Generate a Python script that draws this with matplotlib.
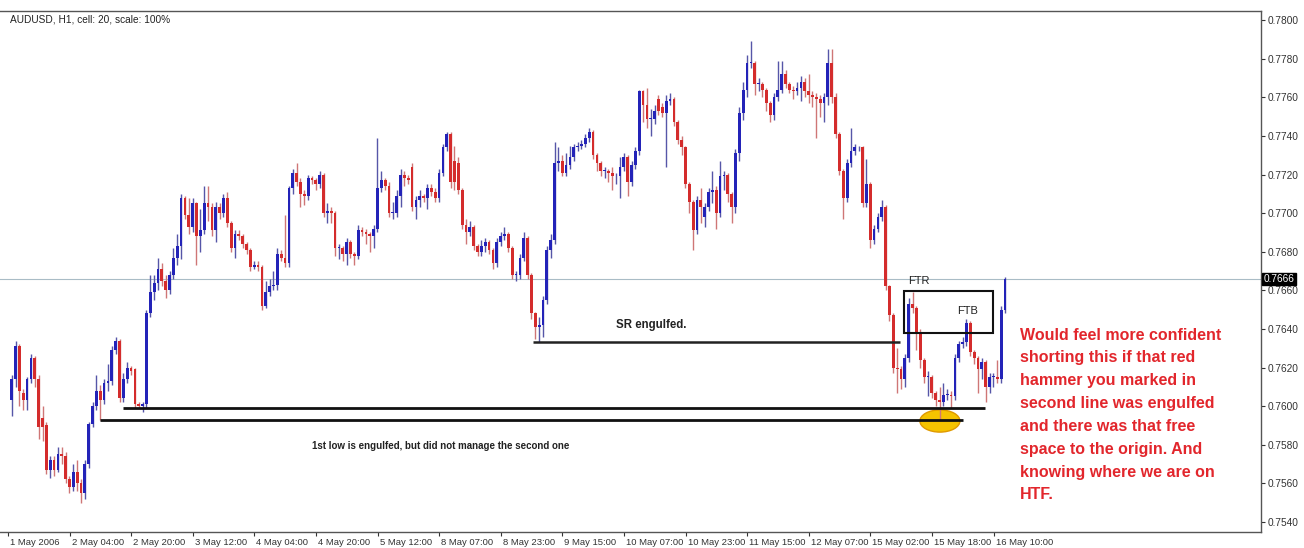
import numpy as np
import matplotlib
matplotlib.use("Agg")
import matplotlib.pyplot as plt
from matplotlib.patches import Ellipse, Rectangle
from matplotlib.transforms import ScaledTranslation

plt.rcParams['font.family'] = ['Liberation Sans', 'DejaVu Sans']

# AUDUSD H1 bars, prices in pips (x 0.0001)
opens = [
    7603, 7614, 7631, 7607, 7603, 7614, 7625, 7614, 7594, 7590,
    7567, 7572, 7567, 7575, 7574, 7562, 7558, 7566, 7560, 7555,
    7570, 7591, 7600, 7608, 7603, 7612, 7613, 7629, 7634, 7604,
    7614, 7620, 7619, 7601, 7600, 7601, 7648, 7659, 7664, 7671,
    7665, 7660, 7668, 7677, 7683, 7708, 7699, 7693, 7705, 7688,
    7691, 7705, 7703, 7691, 7703, 7700, 7708, 7695, 7682, 7689,
    7688, 7684, 7681, 7672, 7673, 7672, 7652, 7659, 7662, 7663,
    7679, 7677, 7674, 7713, 7721, 7716, 7710, 7709, 7718, 7717,
    7715, 7720, 7700, 7701, 7700, 7682, 7682, 7679, 7685, 7679,
    7678, 7691, 7690, 7689, 7688, 7692, 7713, 7717, 7714, 7700,
    7700, 7709, 7720, 7718, 7724, 7703, 7707, 7709, 7708, 7713,
    7711, 7708, 7721, 7734, 7741, 7727, 7726, 7712, 7694, 7690,
    7693, 7683, 7680, 7683, 7685, 7681, 7674, 7685, 7688, 7689,
    7682, 7668, 7668, 7677, 7687, 7668, 7648, 7641, 7642, 7655,
    7681, 7686, 7726, 7727, 7721, 7725, 7729, 7734, 7735, 7736,
    7739, 7742, 7730, 7726, 7722, 7722, 7721, 7719, 7719, 7724,
    7729, 7716, 7725, 7732, 7763, 7756, 7749, 7749, 7759, 7755,
    7752, 7758, 7759, 7747, 7738, 7734, 7715, 7706, 7691, 7707,
    7698, 7703, 7711, 7712, 7700, 7719, 7720, 7710, 7703, 7731,
    7752, 7764, 7778, 7778, 7767, 7767, 7764, 7757, 7751, 7760,
    7764, 7772, 7767, 7764, 7763, 7765, 7768, 7763, 7761, 7760,
    7759, 7757, 7760, 7778, 7760, 7741, 7722, 7708, 7726, 7732,
    7734, 7734, 7705, 7715, 7686, 7692, 7698, 7703, 7662, 7647,
    7620, 7619, 7614, 7625, 7653, 7651, 7638, 7624, 7615, 7615,
    7607, 7603, 7602, 7606, 7606, 7605, 7625, 7632, 7633, 7643,
    7628, 7625, 7619, 7623, 7610, 7615, 7615, 7614, 7650,
]
highs = [
    7616, 7634, 7632, 7609, 7615, 7627, 7626, 7616, 7600, 7592,
    7574, 7574, 7579, 7579, 7576, 7564, 7570, 7572, 7562, 7572,
    7592, 7602, 7616, 7611, 7614, 7622, 7631, 7636, 7635, 7617,
    7623, 7621, 7620, 7602, 7602, 7650, 7668, 7668, 7677, 7674,
    7668, 7670, 7682, 7689, 7710, 7709, 7708, 7708, 7706, 7702,
    7714, 7714, 7705, 7706, 7705, 7710, 7711, 7696, 7691, 7691,
    7689, 7685, 7682, 7675, 7675, 7673, 7665, 7666, 7670, 7682,
    7681, 7699, 7714, 7723, 7726, 7718, 7712, 7720, 7719, 7718,
    7722, 7721, 7705, 7703, 7701, 7684, 7683, 7687, 7686, 7680,
    7694, 7693, 7692, 7690, 7694, 7739, 7722, 7718, 7716, 7706,
    7712, 7723, 7722, 7720, 7726, 7709, 7712, 7710, 7715, 7715,
    7713, 7723, 7736, 7742, 7742, 7735, 7729, 7713, 7697, 7696,
    7694, 7684, 7686, 7687, 7686, 7682, 7687, 7690, 7693, 7690,
    7683, 7670, 7679, 7690, 7688, 7669, 7649, 7646, 7657, 7683,
    7689, 7737, 7734, 7730, 7731, 7735, 7736, 7737, 7738, 7741,
    7744, 7743, 7731, 7727, 7724, 7723, 7724, 7721, 7729, 7731,
    7730, 7727, 7734, 7764, 7764, 7765, 7754, 7756, 7761, 7757,
    7761, 7762, 7760, 7748, 7740, 7735, 7716, 7707, 7709, 7713,
    7705, 7713, 7722, 7714, 7727, 7722, 7721, 7711, 7733, 7755,
    7768, 7782, 7789, 7779, 7770, 7768, 7765, 7758, 7762, 7779,
    7779, 7774, 7768, 7766, 7768, 7771, 7770, 7772, 7763, 7762,
    7761, 7762, 7785, 7785, 7762, 7742, 7723, 7728, 7744, 7736,
    7735, 7735, 7728, 7716, 7694, 7700, 7707, 7704, 7663, 7648,
    7630, 7621, 7627, 7656, 7659, 7652, 7640, 7625, 7618, 7616,
    7608, 7610, 7612, 7609, 7608, 7627, 7634, 7636, 7645, 7644,
    7629, 7626, 7625, 7624, 7617, 7617, 7624, 7652, 7667,
]
lows = [
    7595, 7610, 7600, 7598, 7598, 7612, 7610, 7583, 7582, 7565,
    7563, 7564, 7566, 7570, 7560, 7555, 7556, 7556, 7550, 7552,
    7568, 7589, 7598, 7593, 7601, 7608, 7611, 7627, 7602, 7602,
    7612, 7616, 7599, 7599, 7597, 7599, 7646, 7655, 7660, 7662,
    7656, 7658, 7666, 7673, 7676, 7697, 7689, 7690, 7673, 7680,
    7689, 7696, 7688, 7685, 7697, 7698, 7693, 7680, 7677, 7686,
    7682, 7679, 7670, 7671, 7670, 7650, 7651, 7657, 7660, 7660,
    7675, 7672, 7672, 7710, 7714, 7703, 7704, 7707, 7715, 7712,
    7713, 7698, 7695, 7695, 7678, 7676, 7675, 7673, 7677, 7673,
    7676, 7688, 7684, 7680, 7682, 7690, 7711, 7712, 7698, 7697,
    7698, 7703, 7714, 7715, 7701, 7697, 7703, 7706, 7702, 7709,
    7706, 7706, 7719, 7732, 7713, 7712, 7710, 7692, 7684, 7688,
    7681, 7678, 7678, 7680, 7679, 7671, 7672, 7683, 7686, 7680,
    7666, 7665, 7666, 7675, 7666, 7645, 7635, 7633, 7636, 7653,
    7677, 7684, 7722, 7719, 7719, 7723, 7727, 7732, 7733, 7734,
    7737, 7728, 7722, 7719, 7718, 7716, 7712, 7715, 7708, 7722,
    7709, 7714, 7723, 7730, 7747, 7744, 7740, 7746, 7751, 7750,
    7724, 7756, 7745, 7736, 7730, 7713, 7700, 7681, 7689, 7695,
    7693, 7701, 7705, 7692, 7698, 7712, 7706, 7695, 7700, 7727,
    7748, 7760, 7775, 7761, 7763, 7760, 7753, 7747, 7748, 7758,
    7762, 7765, 7762, 7759, 7761, 7758, 7760, 7757, 7755, 7739,
    7750, 7747, 7756, 7757, 7739, 7720, 7697, 7706, 7724, 7730,
    7732, 7703, 7703, 7682, 7684, 7690, 7696, 7660, 7644, 7617,
    7607, 7609, 7610, 7623, 7648, 7629, 7620, 7612, 7605, 7604,
    7600, 7593, 7600, 7603, 7599, 7603, 7623, 7630, 7631, 7626,
    7622, 7607, 7614, 7602, 7607, 7610, 7612, 7612, 7648,
]
closes = [
    7614, 7631, 7608, 7603, 7614, 7625, 7614, 7589, 7589, 7567,
    7572, 7567, 7575, 7574, 7562, 7558, 7566, 7560, 7555, 7570,
    7591, 7600, 7608, 7603, 7612, 7613, 7629, 7634, 7604, 7614,
    7620, 7618, 7601, 7600, 7601, 7648, 7659, 7664, 7671, 7665,
    7660, 7668, 7677, 7683, 7708, 7699, 7693, 7705, 7688, 7691,
    7705, 7703, 7691, 7703, 7700, 7708, 7695, 7682, 7689, 7688,
    7684, 7681, 7672, 7673, 7672, 7652, 7659, 7662, 7663, 7679,
    7677, 7674, 7713, 7721, 7716, 7710, 7709, 7718, 7717, 7715,
    7720, 7700, 7701, 7700, 7682, 7682, 7679, 7685, 7679, 7678,
    7691, 7690, 7689, 7688, 7692, 7713, 7717, 7714, 7700, 7700,
    7709, 7720, 7718, 7717, 7703, 7707, 7709, 7708, 7713, 7711,
    7708, 7721, 7734, 7741, 7716, 7716, 7712, 7694, 7690, 7693,
    7683, 7680, 7683, 7685, 7681, 7674, 7685, 7688, 7689, 7682,
    7668, 7668, 7677, 7687, 7668, 7648, 7641, 7642, 7655, 7681,
    7686, 7726, 7727, 7721, 7725, 7729, 7734, 7735, 7736, 7739,
    7742, 7730, 7726, 7722, 7722, 7721, 7719, 7719, 7724, 7729,
    7716, 7725, 7732, 7763, 7756, 7749, 7749, 7753, 7753, 7752,
    7758, 7759, 7747, 7738, 7734, 7715, 7706, 7691, 7707, 7703,
    7703, 7711, 7712, 7700, 7719, 7720, 7710, 7703, 7731, 7752,
    7764, 7778, 7778, 7767, 7767, 7764, 7757, 7751, 7760, 7764,
    7772, 7767, 7764, 7763, 7765, 7768, 7763, 7761, 7760, 7759,
    7757, 7760, 7778, 7760, 7741, 7722, 7708, 7726, 7732, 7734,
    7734, 7705, 7715, 7686, 7692, 7698, 7703, 7662, 7647, 7620,
    7619, 7614, 7625, 7653, 7651, 7638, 7624, 7615, 7615, 7607,
    7603, 7602, 7606, 7606, 7605, 7625, 7632, 7633, 7643, 7628,
    7625, 7619, 7623, 7610, 7615, 7615, 7614, 7650, 7666,
]

date_labels = ['1 May 2006', '2 May 04:00', '2 May 20:00', '3 May 12:00', '4 May 04:00',
               '4 May 20:00', '5 May 12:00', '8 May 07:00', '8 May 23:00', '9 May 15:00',
               '10 May 07:00', '10 May 23:00', '11 May 15:00', '12 May 07:00', '15 May 02:00',
               '15 May 18:00', '16 May 10:00']
price_ticks = [0.7540, 0.7560, 0.7580, 0.7600, 0.7620, 0.7640, 0.7660,
               0.7680, 0.7700, 0.7720, 0.7740, 0.7760, 0.7780, 0.7800]
last_price = 0.7666
sr_level = 0.7633
low1_level = 0.7599
low2_level = 0.7593

note = ["Would feel more confident", "shorting this if that red", "hammer you marked in",
        "second line was engulfed", "and there was that free", "space to the origin. And",
        "knowing where we are on", "HTF."]

o = np.array(opens) / 10000.0
h = np.array(highs) / 10000.0
l = np.array(lows) / 10000.0
c = np.array(closes) / 10000.0
x = np.arange(len(c))

W, H = 1304, 548
fig = plt.figure(figsize=(W / 100, H / 100), dpi=100)
ax = fig.add_axes([0, 1 - 532 / H, 1261 / W, 521 / H])

bull = c >= o
blue = '#2323b8'
red = '#d42c2c'
wick_cols = np.where(bull, '#5656a8', '#cf7676')
body_cols = np.where(bull, blue, red)

ax.vlines(x, l, h, colors=wick_cols, lw=1.0, zorder=3)
bottoms = np.minimum(o, c)
heights = np.maximum(np.abs(c - o), 0.00004)
ax.bar(x, heights, bottom=bottoms, width=0.72, color=body_cols, lw=0, zorder=4)

# current price line
ax.axhline(last_price, color='#a9bcc6', lw=0.8, zorder=1)

# annotations
ax.hlines(sr_level, 135.4, 230.7, color='#222222', lw=1.8, zorder=5)
ax.hlines(low1_level, 28.9, 252.8, color='#111111', lw=2.0, zorder=5)
ax.hlines(low2_level, 22.9, 247.1, color='#111111', lw=2.0, zorder=5)
ax.add_patch(Ellipse((241.1, 0.75923), 10.4, 0.00115, facecolor='#f5c300',
                     edgecolor='#e09a00', lw=1, zorder=2))
ax.add_patch(Rectangle((231.8, 0.76379), 23.1, 0.00218, fill=False,
                       edgecolor='#111111', lw=1.5, zorder=6))

ax.text(166, 0.76418, 'SR engulfed.', fontsize=8.3, fontweight='bold', color='#222222',
        ha='center', va='center')
ax.text(111.5, 0.75795, '1st low is engulfed, but did not manage the second one', fontsize=7.0,
        fontweight='bold', color='#222222', ha='center', va='center')
ax.text(232.8, 0.76648, 'FTR', fontsize=8, color='#222222', ha='left', va='center')
ax.text(245.5, 0.76493, 'FTB', fontsize=8, color='#222222', ha='left', va='center')

for i, line in enumerate(note):
    fig.text(1020 / W, 1 - (335 + i * 22.85) / H, line, fontsize=11.5, fontweight='bold',
             color='#e2262c', ha='left', va='center')

fig.text(10 / W, 1 - 20 / H, 'AUDUSD, H1, cell: 20, scale: 100%', fontsize=7.3,
         color='#222222', ha='left', va='center')

ax.set_xlim(-3.04, 324.5)
ax.set_ylim(0.75348, 0.78047)

ax.yaxis.tick_right()
ax.set_yticks(price_ticks)
ax.set_yticklabels(['%.4f' % p for p in price_ticks])
ax.tick_params(axis='y', length=3, width=0.8, pad=2, labelsize=7.3, colors='#333333')

xt = np.arange(len(date_labels)) * 16 - 0.96
ax.set_xticks(xt)
ax.set_xticklabels(date_labels)
ax.tick_params(axis='x', length=3, width=0.8, pad=1.5, labelsize=6.8, colors='#333333')
offset = ScaledTranslation(2 / 100, 0, fig.dpi_scale_trans)
for lab in ax.get_xticklabels():
    lab.set_horizontalalignment('left')
    lab.set_transform(lab.get_transform() + offset)

ax.spines['left'].set_visible(False)
for s in ['top', 'right', 'bottom']:
    ax.spines[s].set_color('#555555')
    ax.spines[s].set_linewidth(1.0)

ax.text(1.002, last_price, '0.7666', transform=ax.get_yaxis_transform(), fontsize=7.3,
        color='white', ha='left', va='center', zorder=10,
        bbox=dict(boxstyle='square,pad=0.12', facecolor='black', edgecolor='black'))

fig.savefig('out.png', dpi=100)
